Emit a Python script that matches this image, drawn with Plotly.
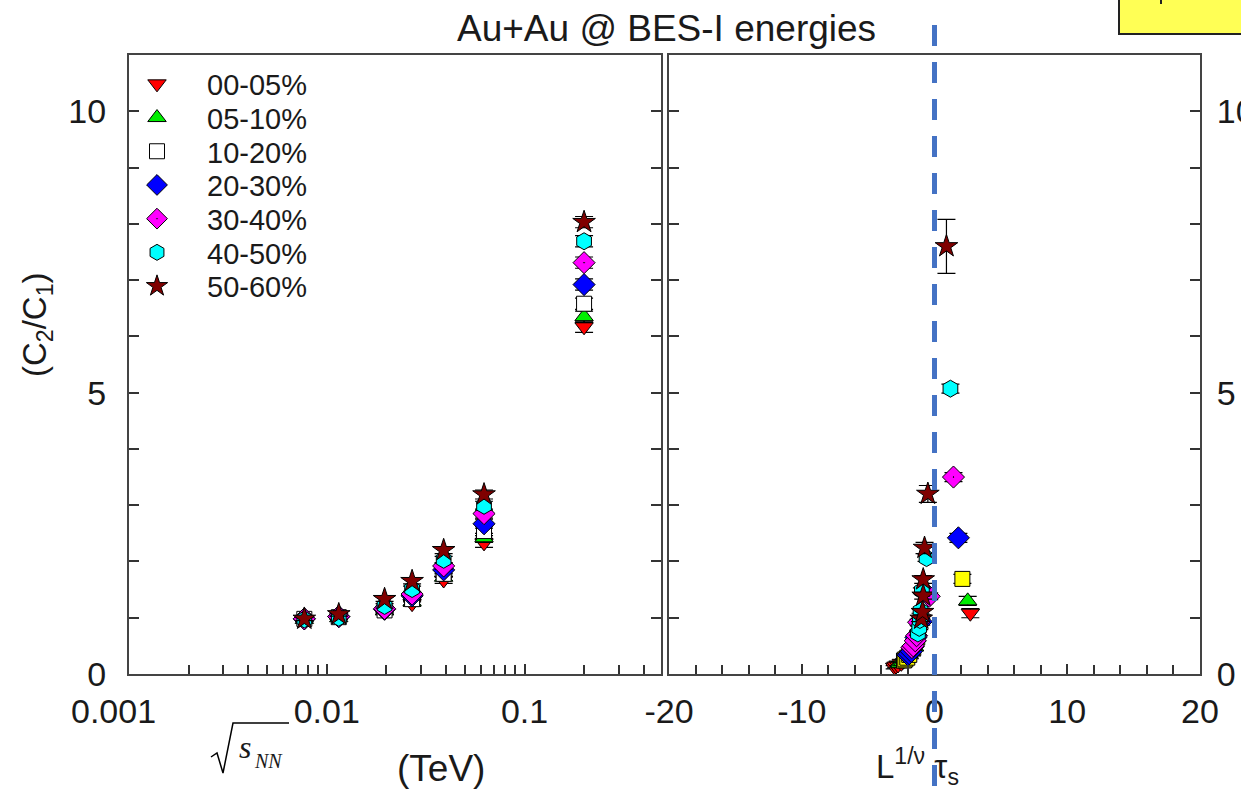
import plotly.graph_objects as go

# ---------------- data ----------------
energies_tev = [0.0077, 0.0115, 0.0196, 0.027, 0.039, 0.0624, 0.2]
centralities = ["00-05%", "05-10%", "10-20%", "20-30%", "30-40%", "40-50%", "50-60%"]

# left panel: C2/C1 vs sqrt(sNN)
c2c1_0005 = [0.97, 1.00, 1.10, 1.25, 1.67, 2.33, 6.17]
c2c1_0510 = [0.97, 1.00, 1.12, 1.28, 1.72, 2.42, 6.35]
c2c1_1020 = [0.98, 1.01, 1.13, 1.33, 1.78, 2.54, 6.58]
c2c1_2030 = [0.98, 1.02, 1.15, 1.39, 1.85, 2.67, 6.92]
c2c1_3040 = [0.98, 1.02, 1.16, 1.42, 1.92, 2.85, 7.31]
c2c1_4050 = [0.97, 1.00, 1.21, 1.51, 2.03, 2.99, 7.69]
c2c1_5060 = [0.98, 1.06, 1.33, 1.65, 2.20, 3.19, 8.03]
err_left = [0.03, 0.03, 0.04, 0.05, 0.06, 0.08, 0.10]

# right panel: scaled values vs L^(1/nu) tau_s
x_0005 = [-3.0, -2.9, -2.75, -2.5, -2.1, -1.7, 2.7]
y_0005 = [0.12, 0.14, 0.16, 0.19, 0.26, 0.38, 1.08]
x_0510 = [-2.7, -2.6, -2.4, -2.2, -1.9, -1.5, 2.5]
y_0510 = [0.18, 0.19, 0.22, 0.25, 0.34, 0.48, 1.30]
x_1020 = [-2.3, -2.2, -2.05, -1.9, -1.6, -1.3, 2.1]
y_1020 = [0.24, 0.26, 0.29, 0.34, 0.46, 0.65, 1.69]
x_2030 = [-2.0, -1.9, -1.75, -1.6, -1.4, -1.0, 1.8]
y_2030 = [0.34, 0.36, 0.40, 0.49, 0.65, 0.93, 2.42]
x_3040 = [-1.7, -1.6, -1.45, -1.35, -1.2, -0.4, 1.43]
y_3040 = [0.47, 0.50, 0.59, 0.68, 0.92, 1.38, 3.50]
x_4050 = [-1.25, -1.15, -1.1, -1.05, -0.95, -0.6, 1.2]
y_4050 = [0.72, 0.82, 0.96, 1.12, 1.48, 2.06, 5.07]
x_5060 = [-1.0, -0.9, -0.85, -0.85, -0.75, -0.5, 0.9]
y_5060 = [0.98, 1.10, 1.39, 1.68, 2.24, 3.20, 7.60]
err_right_5060 = [0.05, 0.05, 0.06, 0.07, 0.10, 0.15, 0.48]
err_right = [0.03, 0.03, 0.03, 0.04, 0.05, 0.06, 0.08]

left_series = [c2c1_0005, c2c1_0510, c2c1_1020, c2c1_2030, c2c1_3040, c2c1_4050, c2c1_5060]
right_x = [x_0005, x_0510, x_1020, x_2030, x_3040, x_4050, x_5060]
right_y = [y_0005, y_0510, y_1020, y_2030, y_3040, y_4050, y_5060]

x_tick_left = [0.001, 0.01, 0.1]
x_ticktext_left = ["", "0.01", "0.1"]
x_tick_right = [-20, -10, 0, 10, 20]
x_ticktext_right = ["-20", "-10", "0", "10", "20"]
y_ticks = [0, 5, 10]

# ---------------- styles ----------------
symbols = ["triangle-down", "triangle-up", "square", "diamond", "diamond-dot", "hexagon", "star"]
colors_left = ["#ff0000", "#00ee00", "#ffffff", "#0000ff", "#ff00ff", "#00ffff", "#800000"]
colors_right = ["#ff0000", "#00ee00", "#ffff00", "#0000ff", "#ff00ff", "#00ffff", "#800000"]
sizes = [16, 16, 15, 17, 17, 17, 17]

W, H = 1241, 796
ML, MR, MT, MB = 129, 41, 55, 122
PW, PH = W - ML - MR, H - MT - MB


def px(x):
    return (x - ML) / PW


def py(y):
    return (H - MB - y) / PH


FONT = "Liberation Sans, Arial, sans-serif"
TXT = "#1a1a1a"

fig = go.Figure()

legend_names = ["legend"] + ["legend%d" % k for k in range(2, 8)]

for i, name in enumerate(centralities):
    fig.add_trace(go.Scatter(
        x=energies_tev, y=left_series[i], mode="markers", name=name,
        legendgroup=name, showlegend=True, legend=legend_names[i],
        marker=dict(symbol=symbols[i], color=colors_left[i], size=sizes[i],
                    line=dict(color="black", width=1)),
        error_y=dict(type="data", array=err_left, color="black", thickness=1.2, width=9),
        xaxis="x", yaxis="y"))

for i, name in enumerate(centralities):
    errs = err_right_5060 if i == 6 else err_right
    fig.add_trace(go.Scatter(
        x=right_x[i], y=right_y[i], mode="markers", name=name,
        legendgroup=name, showlegend=False,
        marker=dict(symbol=symbols[i], color=colors_right[i], size=sizes[i],
                    line=dict(color="black", width=1)),
        error_y=dict(type="data", array=errs, color="black", thickness=1.2, width=9),
        xaxis="x2", yaxis="y2"))

axis_common = dict(showline=True, linecolor="#444444", linewidth=2, showgrid=False,
                   zeroline=False, ticks="inside", ticklen=10, tickwidth=1.5,
                   tickcolor="#333333", automargin=False,
                   tickfont=dict(family=FONT, size=34, color=TXT))

minor_log = [0.002, 0.003, 0.004, 0.005, 0.006, 0.007, 0.008, 0.009,
             0.02, 0.03, 0.04, 0.05, 0.06, 0.07, 0.08, 0.09,
             0.2, 0.3, 0.4]

d_split = (661 - ML) / PW
d_right = (669 - ML) / PW

layout_legends = {}
for i, ln in enumerate(legend_names):
    yc = 84 + i * 33.7
    layout_legends[ln] = dict(x=px(107), y=py(yc), xanchor="left", yanchor="middle",
                              font=dict(family=FONT, size=29, color=TXT),
                              bgcolor="rgba(0,0,0,0)", itemwidth=90)

fig.update_layout(
    width=W, height=H,
    margin=dict(l=ML, r=MR, t=MT, b=MB, autoexpand=False),
    paper_bgcolor="white", plot_bgcolor="white",
    showlegend=True,
    xaxis=dict(axis_common, type="log", domain=[0, d_split], range=[-3, -0.31],
               tickmode="array", tickvals=x_tick_left,
               ticktext=x_ticktext_left, mirror=True,
               ticklabelstandoff=6,
               minor=dict(ticks="inside", ticklen=9, tickwidth=1.5, tickcolor="#333333",
                          tickmode="array", tickvals=minor_log, showgrid=False),
               anchor="y"),
    yaxis=dict(axis_common, domain=[0, 1], range=[0, 11], tickmode="array",
               tickvals=y_ticks, mirror="ticks", ticklabelstandoff=14,
               minor=dict(ticks="inside", ticklen=10, tickwidth=1.5, tickcolor="#333333",
                          dtick=1, showgrid=False),
               anchor="x"),
    xaxis2=dict(axis_common, domain=[d_right, 1], range=[-20, 20], tickmode="array",
                tickvals=x_tick_right, ticktext=x_ticktext_right, mirror=True,
                ticklabelstandoff=6,
                minor=dict(ticks="inside", ticklen=9, tickwidth=1.5, tickcolor="#333333",
                           dtick=2, showgrid=False),
                anchor="y2"),
    yaxis2=dict(axis_common, domain=[0, 1], range=[0, 11], tickmode="array",
                tickvals=y_ticks, side="right", mirror="ticks", ticklabelstandoff=8,
                minor=dict(ticks="inside", ticklen=10, tickwidth=1.5, tickcolor="#333333",
                           dtick=1, showgrid=False),
                anchor="x2"),
    **layout_legends,
)

shapes = []
# dashed reference line at x = 0 of right panel
x0_paper = d_right + (1 - d_right) * 0.5
shapes.append(dict(type="line", xref="paper", yref="paper", x0=x0_paper, x1=x0_paper,
                   y0=py(25), y1=py(800),
                   line=dict(color="#4472C4", width=5, dash="21px,16px")))
# yellow box top right
shapes.append(dict(type="rect", xref="paper", yref="paper", x0=px(1119), x1=px(1260),
                   y0=py(34), y1=py(-20), fillcolor="#FFFF55",
                   line=dict(color="#222222", width=2)))
shapes.append(dict(type="line", xref="paper", yref="paper", x0=px(1161), x1=px(1161),
                   y0=py(-2), y1=py(4), line=dict(color="#222222", width=2)))
# radical sign for sqrt(s_NN)
shapes.append(dict(type="path", xref="paper", yref="paper",
                   path="M {a},{b} L {c},{d} L {e},{f} L {g},{h} L {i},{j}".format(
                       a=px(211), b=py(757), c=px(217), d=py(753), e=px(223), f=py(773),
                       g=px(233), h=py(723), i=px(289), j=py(723)),
                   line=dict(color="black", width=1.5)))
fig.update_layout(shapes=shapes)

annotations = [
    dict(text="Au+Au @ BES-I energies", x=px(666), y=py(29), xref="paper", yref="paper",
         showarrow=False, xanchor="center", yanchor="middle",
         font=dict(family=FONT, size=37, color=TXT)),
    dict(text="0.001", x=px(113), y=py(711), xref="paper", yref="paper",
         showarrow=False, xanchor="center", yanchor="middle",
         font=dict(family=FONT, size=34, color=TXT)),
    dict(text="(C<sub>2</sub>/C<sub>1</sub>)", x=px(37), y=py(325), xref="paper", yref="paper",
         showarrow=False, textangle=-90, xanchor="center", yanchor="middle",
         font=dict(family=FONT, size=33, color=TXT)),
    dict(text="(TeV)", x=px(441), y=py(768), xref="paper", yref="paper",
         showarrow=False, xanchor="center", yanchor="middle",
         font=dict(family=FONT, size=37, color=TXT)),
    dict(text="<i>s</i>", x=px(245), y=py(747), xref="paper", yref="paper",
         showarrow=False, xanchor="center", yanchor="middle",
         font=dict(family="Liberation Serif, Times New Roman, serif", size=32, color=TXT)),
    dict(text="<i>NN</i>", x=px(268), y=py(761), xref="paper", yref="paper",
         showarrow=False, xanchor="center", yanchor="middle",
         font=dict(family="Liberation Serif, Times New Roman, serif", size=20, color=TXT)),
    dict(text="L<sup>1/ν</sup> τ<sub>s</sub>", x=px(917), y=py(766), xref="paper", yref="paper",
         showarrow=False, xanchor="center", yanchor="middle",
         font=dict(family=FONT, size=33, color=TXT)),
]
fig.update_layout(annotations=annotations)

fig.write_html("out.html", config={"displayModeBar": False},
               post_script="document.body.style.margin='0px';document.body.style.overflow='hidden';")
